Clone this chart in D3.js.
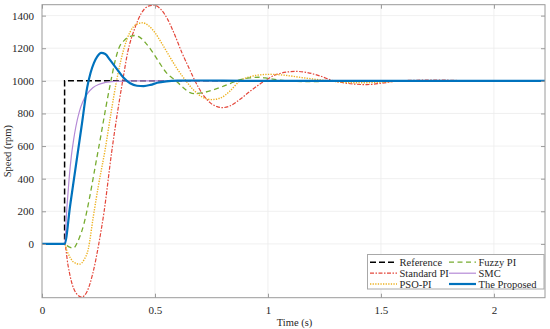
<!DOCTYPE html>
<html>
<head>
<meta charset="UTF-8">
<title>speed response</title>
<style>
  body { margin: 0; background: #fff; }
  svg { display: block; }
  text { font-family: "Liberation Serif", "Times New Roman", serif; fill: #262626; }
</style>
</head>
<body>
<div class="svg-zone"></div>
<script src="https://cdn.jsdelivr.net/npm/d3@7/dist/d3.min.js"></script>
<script>
// speed (rpm) vs time (s), [t, speed]
var reference = [[0, 0], [0.1, 0], [0.1, 1000], [2.226, 1000]];

var standardPI = [[0, 0], [0.1, 0], [0.115, -130], [0.13, -230], [0.15, -300], [0.175, -326],
  [0.2, -290], [0.225, -180], [0.25, -10], [0.275, 200], [0.308, 560], [0.33, 770], [0.357, 1000],
  [0.38, 1180], [0.41, 1320], [0.44, 1415], [0.47, 1458], [0.497, 1464], [0.525, 1440], [0.555, 1380],
  [0.585, 1290], [0.62, 1170], [0.65, 1080], [0.677, 1000], [0.71, 920], [0.745, 865], [0.775, 842],
  [0.8, 836], [0.83, 845], [0.87, 880], [0.92, 935], [0.985, 1000], [1.03, 1035], [1.08, 1053],
  [1.125, 1058], [1.17, 1052], [1.23, 1030], [1.29, 1000], [1.35, 985], [1.437, 977], [1.5, 985],
  [1.58, 1000], [1.68, 1004], [1.78, 1004], [1.9, 1000], [2.226, 1000]];

var psoPI = [[0, 0], [0.1, 0], [0.11, -40], [0.125, -85], [0.14, -112], [0.165, -124], [0.185, -100],
  [0.205, -30], [0.227, 167], [0.25, 360], [0.279, 575], [0.305, 800], [0.33, 1000], [0.363, 1200],
  [0.39, 1300], [0.42, 1348], [0.445, 1356], [0.47, 1340], [0.5, 1295], [0.53, 1230], [0.56, 1160],
  [0.6, 1070], [0.637, 1000], [0.67, 945], [0.71, 900], [0.751, 885], [0.79, 895], [0.83, 935],
  [0.876, 1000], [0.92, 1025], [0.96, 1036], [1.01, 1040], [1.07, 1035], [1.15, 1020], [1.27, 1000],
  [1.35, 990], [1.42, 988], [1.5, 992], [1.6, 999], [1.7, 1000], [2.226, 1000]];

var fuzzyPI = [[0, 0], [0.1, 0], [0.11, -10], [0.125, -22], [0.139, -26], [0.16, 20], [0.185, 120],
  [0.21, 280], [0.235, 470], [0.26, 660], [0.283, 840], [0.305, 1000], [0.325, 1130], [0.34, 1200],
  [0.365, 1250], [0.395, 1275], [0.41, 1278], [0.435, 1265], [0.46, 1230], [0.49, 1175], [0.52, 1110],
  [0.55, 1050], [0.593, 1000], [0.625, 958], [0.655, 928], [0.675, 922], [0.72, 930], [0.78, 955],
  [0.835, 985], [0.865, 1002], [0.92, 1018], [0.96, 1022], [1.0, 1015], [1.05, 1005], [1.1, 998],
  [1.18, 995], [1.3, 998], [1.45, 1000], [2.226, 1000]];

var smc = [[0, 0], [0.1, 0], [0.11, 220], [0.12, 400], [0.13, 540], [0.14, 640], [0.15, 720],
  [0.165, 810], [0.18, 870], [0.2, 920], [0.225, 958], [0.25, 978], [0.28, 990], [0.32, 997],
  [0.4, 1000], [2.226, 1000]];

var proposed = [[0, 0], [0.1, 0], [0.125, 240], [0.15, 480], [0.175, 720], [0.2, 960], [0.215, 1050],
  [0.23, 1110], [0.245, 1150], [0.262, 1172], [0.28, 1165], [0.3, 1130], [0.33, 1075], [0.36, 1020],
  [0.39, 985], [0.42, 970], [0.45, 968], [0.48, 975], [0.51, 988], [0.55, 997], [0.6, 1001],
  [0.7, 1002], [0.9, 1000], [2.226, 1000]];

var xTicks = [0, 0.5, 1, 1.5, 2];
var yTicks = [0, 200, 400, 600, 800, 1000, 1200, 1400];

var series = [
  { name: "Reference", data: reference, color: "#000000", dash: "6,3", width: 1.5, col: 0, row: 0 },
  { name: "Standard PI", data: standardPI, color: "#e4473b", dash: "4,1.5,1.5,1.5", width: 1.2, col: 0, row: 1 },
  { name: "PSO-PI", data: psoPI, color: "#edb120", dash: "1.3,1.3", width: 1.4, col: 0, row: 2 },
  { name: "Fuzzy PI", data: fuzzyPI, color: "#77ac30", dash: "5,3.5", width: 1.3, col: 1, row: 0 },
  { name: "SMC", data: smc, color: "#b58ad6", dash: null, width: 1.2, col: 1, row: 1 },
  { name: "The Proposed", data: proposed, color: "#0072bd", dash: null, width: 2.2, col: 1, row: 2 }
];

render();

function render() {
  var width = 550, height = 329;
  var pLeft = 42, pRight = 545, pTop = 4.7, pBottom = 297.7;

  var svg = d3.select(".svg-zone").append("svg")
    .attr("width", width)
    .attr("height", height);

  var x = d3.scaleLinear().domain([0, 2.226]).range([pLeft, pRight]);
  var y = d3.scaleLinear().domain([-330, 1467]).range([pBottom, pTop]);

  // grid
  var grid = svg.append("g");
  grid.selectAll(".gx").data(xTicks.slice(1)).enter().append("line")
    .attr("x1", d => x(d)).attr("x2", d => x(d))
    .attr("y1", pTop).attr("y2", pBottom)
    .attr("stroke", "#ececec").attr("stroke-width", 0.8);
  grid.selectAll(".gy").data(yTicks).enter().append("line")
    .attr("x1", pLeft).attr("x2", pRight)
    .attr("y1", d => y(d)).attr("y2", d => y(d))
    .attr("stroke", "#ececec").attr("stroke-width", 0.8);

  svg.append("clipPath").attr("id", "clip").append("rect")
    .attr("x", pLeft).attr("y", pTop).attr("width", pRight - pLeft).attr("height", pBottom - pTop);

  var smooth = d3.line().x(d => x(d[0])).y(d => y(d[1])).curve(d3.curveMonotoneX);
  var straight = d3.line().x(d => x(d[0])).y(d => y(d[1]));

  var plot = svg.append("g").attr("clip-path", "url(#clip)");
  series.forEach(function (s) {
    plot.append("path")
      .datum(s.data)
      .attr("fill", "none")
      .attr("stroke", s.color)
      .attr("stroke-width", s.width)
      .attr("stroke-dasharray", s.dash)
      .attr("d", s.name === "Reference" ? straight : smooth);
  });

  // axes (ticks inward, box on)
  var axisColor = "#9a9a9a";
  svg.append("g")
    .attr("transform", "translate(0," + pBottom + ")")
    .call(d3.axisBottom(x).tickValues(xTicks).tickSize(-4).tickPadding(9).tickFormat(d3.format("")));
  svg.append("g")
    .attr("transform", "translate(" + pLeft + ",0)")
    .call(d3.axisLeft(y).tickValues(yTicks).tickSize(-4).tickPadding(8).tickFormat(d3.format("d")));
  svg.append("g")
    .attr("transform", "translate(0," + pTop + ")")
    .call(d3.axisTop(x).tickValues(xTicks).tickSize(-4).tickFormat(""));
  svg.append("g")
    .attr("transform", "translate(" + pRight + ",0)")
    .call(d3.axisRight(y).tickValues(yTicks).tickSize(-4).tickFormat(""));

  svg.selectAll(".domain").remove();
  svg.selectAll(".tick line").attr("stroke", axisColor);
  svg.selectAll(".tick text").attr("font-size", 11).attr("fill", "#262626")
    .attr("font-family", "Liberation Serif");
  svg.append("rect")
    .attr("x", pLeft).attr("y", pTop).attr("width", pRight - pLeft).attr("height", pBottom - pTop)
    .attr("fill", "none").attr("stroke", axisColor).attr("stroke-width", 1);

  svg.append("text")
    .attr("x", (pLeft + pRight) / 2 + 1)
    .attr("y", 326)
    .attr("text-anchor", "middle")
    .attr("font-size", 10.5)
    .text("Time (s)");

  svg.append("text")
    .attr("transform", "translate(11," + ((pTop + pBottom) / 2) + ") rotate(-90)")
    .attr("text-anchor", "middle")
    .attr("font-size", 10.5)
    .text("Speed (rpm)");

  // legend
  var lg = svg.append("g");
  lg.append("rect")
    .attr("x", 367.5).attr("y", 254.5).attr("width", 176.5).attr("height", 34.5)
    .attr("fill", "#fff").attr("stroke", "#a8a8a8").attr("stroke-width", 1);
  var colX = [370, 449], rowY = [262.2, 273.2, 284];
  series.forEach(function (s) {
    var x0 = colX[s.col], yy = rowY[s.row];
    lg.append("line")
      .attr("x1", x0).attr("x2", x0 + 27)
      .attr("y1", yy).attr("y2", yy)
      .attr("stroke", s.color)
      .attr("stroke-width", s.width)
      .attr("stroke-dasharray", s.dash);
    lg.append("text")
      .attr("x", x0 + 29.5).attr("y", yy + 3.6)
      .attr("font-size", 10.5)
      .text(s.name);
  });
}
</script>
</body>
</html>
